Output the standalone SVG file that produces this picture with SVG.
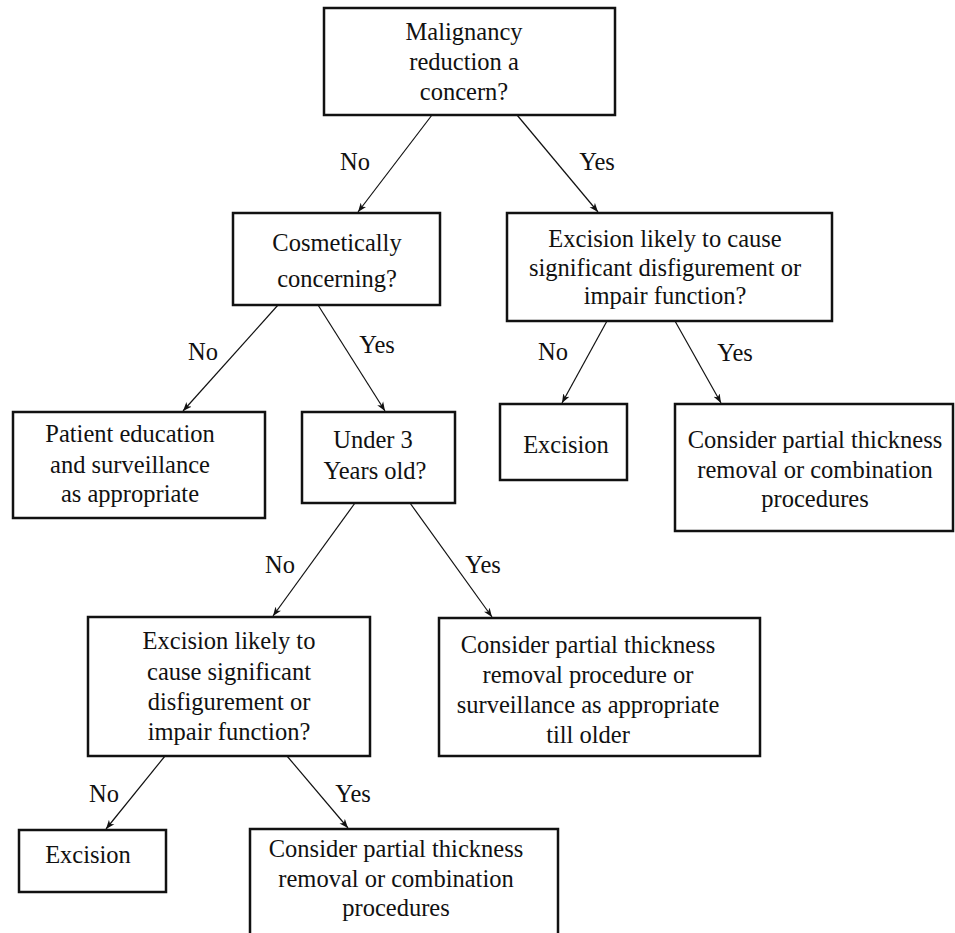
<svg xmlns="http://www.w3.org/2000/svg" width="955" height="933" viewBox="0 0 955 933">
<style>
.box{fill:#fff;stroke:#111;stroke-width:2.5}
.t{font-family:'Liberation Serif','Times New Roman',serif;font-size:24.5px;fill:#111;text-anchor:middle}
.c{stroke:#111;stroke-width:1.2;fill:none;marker-end:url(#ah)}
</style>
<defs>
<marker id="ah" markerUnits="userSpaceOnUse" markerWidth="10" markerHeight="8" refX="9" refY="4" orient="auto">
<path d="M0,0.5 L9,4 L0,7.5 L2.5,4 Z" fill="#111"/>
</marker>
</defs>
<rect width="955" height="933" fill="#fff"/>
<g id="connectors">
<line class="c" x1="432" y1="115" x2="358" y2="212"/>
<line class="c" x1="517" y1="115" x2="598" y2="212"/>
<line class="c" x1="278" y1="305" x2="183" y2="411"/>
<line class="c" x1="318" y1="305" x2="385" y2="411"/>
<line class="c" x1="607" y1="321" x2="562" y2="403"/>
<line class="c" x1="675" y1="321" x2="721" y2="403"/>
<line class="c" x1="355" y1="503" x2="273" y2="616"/>
<line class="c" x1="410" y1="503" x2="492" y2="617"/>
<line class="c" x1="165" y1="756" x2="106" y2="829"/>
<line class="c" x1="287" y1="756" x2="348" y2="828"/>
<text class="t" x="355" y="170">No</text>
<text class="t" x="597" y="170">Yes</text>
<text class="t" x="203" y="360">No</text>
<text class="t" x="377" y="353">Yes</text>
<text class="t" x="553" y="360">No</text>
<text class="t" x="735" y="361">Yes</text>
<text class="t" x="280" y="573">No</text>
<text class="t" x="483" y="573">Yes</text>
<text class="t" x="104" y="802">No</text>
<text class="t" x="353" y="802">Yes</text>
</g>
<g id="n1">
<rect class="box" x="324" y="8" width="291" height="107"/>
<text class="t" x="464" y="40">Malignancy</text>
<text class="t" x="464" y="70">reduction a</text>
<text class="t" x="464" y="100">concern?</text>
</g>
<g id="n2">
<rect class="box" x="233" y="213" width="207" height="92"/>
<text class="t" x="337" y="251">Cosmetically</text>
<text class="t" x="337" y="287">concerning?</text>
</g>
<g id="n3">
<rect class="box" x="507" y="213" width="325" height="108"/>
<text class="t" x="665" y="247">Excision likely to cause</text>
<text class="t" x="665" y="276">significant disfigurement or</text>
<text class="t" x="665" y="304">impair function?</text>
</g>
<g id="n4">
<rect class="box" x="13" y="412" width="252" height="106"/>
<text class="t" x="130" y="442">Patient education</text>
<text class="t" x="130" y="473">and surveillance</text>
<text class="t" x="130" y="502">as appropriate</text>
</g>
<g id="n5">
<rect class="box" x="302" y="412" width="153" height="91"/>
<text class="t" x="373" y="448">Under 3</text>
<text class="t" x="375" y="479">Years old?</text>
</g>
<g id="n6">
<rect class="box" x="500" y="404" width="127" height="76"/>
<text class="t" x="566" y="453">Excision</text>
</g>
<g id="n7">
<rect class="box" x="675" y="404" width="278" height="127"/>
<text class="t" x="815" y="448">Consider partial thickness</text>
<text class="t" x="815" y="478">removal or combination</text>
<text class="t" x="815" y="507">procedures</text>
</g>
<g id="n8">
<rect class="box" x="88" y="617" width="282" height="139"/>
<text class="t" x="229" y="649">Excision likely to</text>
<text class="t" x="229" y="680">cause significant</text>
<text class="t" x="229" y="710">disfigurement or</text>
<text class="t" x="229" y="740">impair function?</text>
</g>
<g id="n9">
<rect class="box" x="439" y="618" width="321" height="138"/>
<text class="t" x="588" y="653">Consider partial thickness</text>
<text class="t" x="588" y="683">removal procedure or</text>
<text class="t" x="588" y="713">surveillance as appropriate</text>
<text class="t" x="588" y="743">till older</text>
</g>
<g id="n10">
<rect class="box" x="19" y="830" width="147" height="62"/>
<text class="t" x="88" y="863">Excision</text>
</g>
<g id="n11">
<rect class="box" x="250" y="829" width="308" height="120"/>
<text class="t" x="396" y="857">Consider partial thickness</text>
<text class="t" x="396" y="887">removal or combination</text>
<text class="t" x="396" y="916">procedures</text>
</g>
</svg>
